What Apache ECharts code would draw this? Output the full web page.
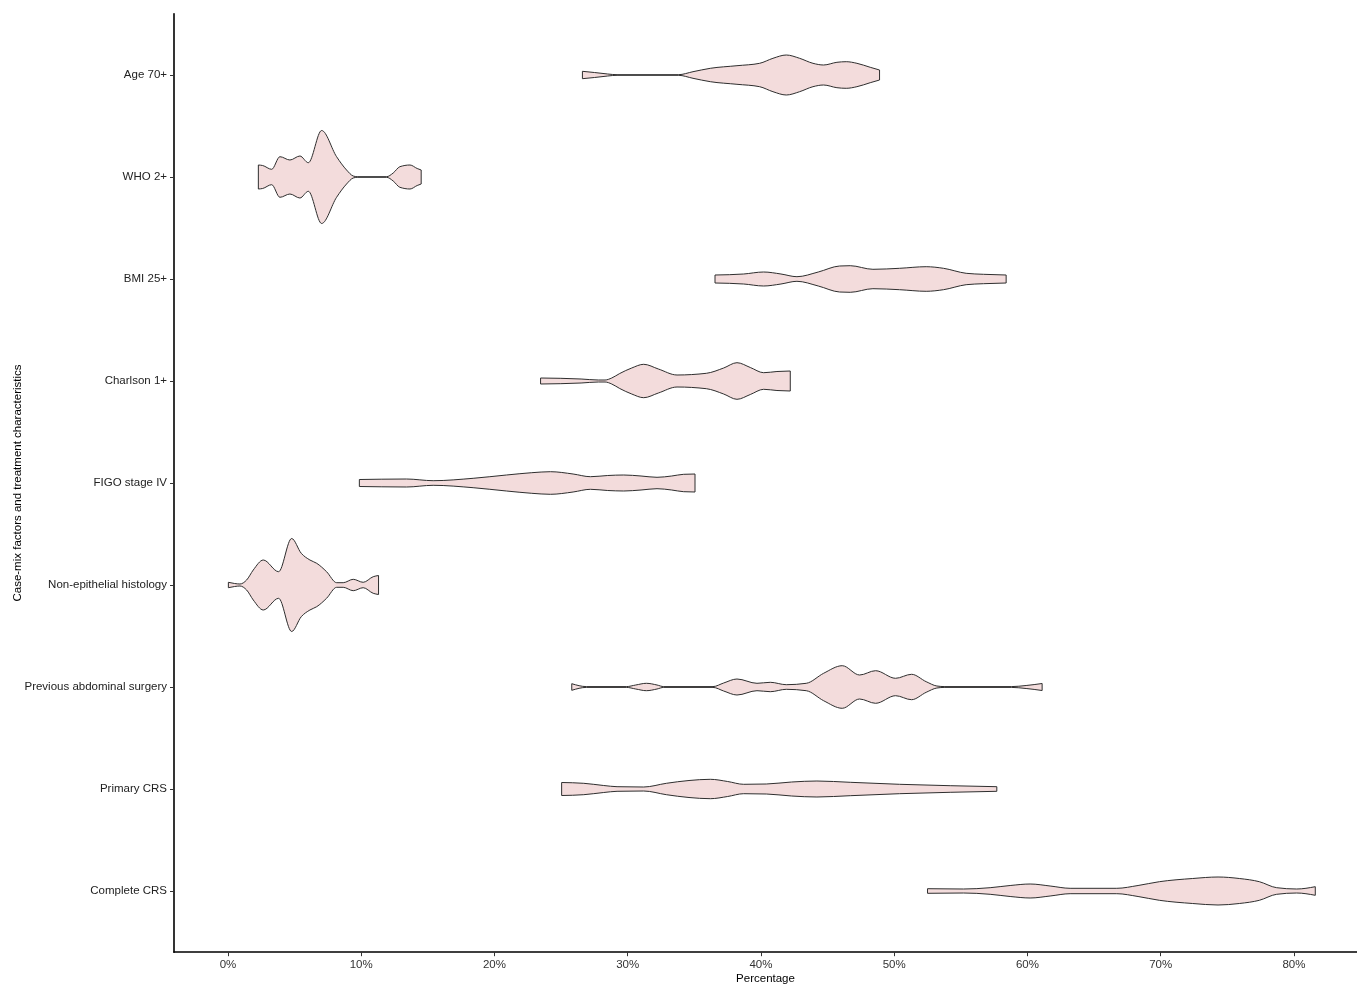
<!DOCTYPE html>
<html><head><meta charset="utf-8">
<script src="https://cdn.jsdelivr.net/npm/echarts@6/dist/echarts.min.js"></script>
<style>html,body{margin:0;padding:0;background:#fff}#chart{width:1357px;height:985px}</style>
</head><body><div id="chart"></div>
<script>
// Categories (top to bottom)
const categories = ['Age 70+','WHO 2+','BMI 25+','Charlson 1+','FIGO stage IV','Non-epithelial histology','Previous abdominal surgery','Primary CRS','Complete CRS'];
const xTicks = [0,10,20,30,40,50,60,70,80];

// Violin outlines: [percentage, relative density (half-width)]
const age70 = [[26.6,3.7],[27.5,2.5],[28.5,1],[29.2,0.3],[33.8,0.3],[34.9,3.3],[36.2,6.7],[38.2,9.3],[39.9,11.7],[40.9,16.7],[41.9,20],[42.9,16.7],[43.9,11.7],[44.7,10],[45.7,12.7],[46.4,13.3],[47.2,11.7],[48.2,7.7],[48.9,5]];
const who2 = [[2.28,12],[2.6,11.5],[3.28,7.7],[3.9,20.3],[4.65,17],[5.4,21],[6.03,14.3],[7.03,46.5],[8.15,20.3],[8.9,7],[9.4,1],[9.7,0.3],[11.9,0.3],[12.4,4],[12.9,10.3],[13.66,12],[14.2,8.5],[14.5,7]];
const bmi25 = [[36.55,4],[38.7,5],[40.2,7],[41.5,5],[42.7,2.3],[44.3,7],[45.9,13],[46.7,13.3],[48.4,9.7],[50.4,10.7],[52.4,12.3],[53.7,10.7],[55.4,5.7],[56.7,4.7],[58.4,4]];
const charlson = [[23.46,3],[26.5,2],[27.8,1],[28.3,1],[28.8,3],[29.4,7.5],[30.3,13],[31.2,16.7],[32.3,12],[33.7,6],[35.9,7.7],[37.2,13],[38.2,18.3],[39.2,13.5],[40.2,8.3],[41.2,9.5],[42.2,10]];
const figo = [[9.86,3.5],[11.5,3.8],[13.4,4],[15.4,2.3],[18.4,4.7],[20.9,8],[22.8,10.3],[24.2,11.3],[25.9,9],[27.2,6.3],[28.5,7.5],[29.7,8],[31,7],[32.2,5.7],[33.3,7],[34.2,8.7],[35.05,9]];
const nonEpi = [[0.03,2.7],[0.5,1.5],[0.9,1],[1.4,5],[1.9,15],[2.65,25],[3.8,13.3],[4.78,46.5],[5.5,31.7],[6.15,25],[6.66,21.7],[7.4,13.3],[8.16,2.3],[8.65,2.3],[9.4,5.7],[10.15,2.7],[10.9,8.3],[11.3,9.5]];
const prevSurgery = [[25.8,3.3],[26.9,0.4],[29.9,0.4],[30.6,2],[31.4,3.7],[32.2,2],[32.7,0.4],[36.4,0.4],[37.2,4],[38.2,8],[39.7,3.7],[40.7,4.7],[41.9,2.3],[43.4,3.7],[44.7,13.7],[46.1,21.3],[47.4,12],[48.6,16.3],[50.1,8.7],[51.3,12.7],[52.4,5.3],[53.2,1],[53.8,0.4],[58.8,0.4],[59.9,1.5],[61.1,3.5]];
const primaryCRS = [[25.04,6.5],[26.7,5.7],[28.2,3.5],[29.2,2.3],[31.2,2],[32.9,5.7],[34.6,8.5],[36.2,9.7],[37.5,7.5],[38.7,4.7],[40.4,5],[42.3,7],[44.2,8],[46.7,6.7],[50.4,4.7],[54.2,3.3],[57.7,2.3]];
const completeCRS = [[52.5,2.3],[55.2,2],[57.2,3.3],[58.7,5.5],[60.2,7],[61.7,5],[63.2,2.7],[66.7,2.7],[68.3,5.5],[69.9,9.3],[72.4,12.5],[74.3,14],[75.9,12.5],[77.4,9.3],[78.7,3.3],[80.2,2],[81.6,4.3]];

const profiles = [age70, who2, bmi25, charlson, figo, nonEpi, prevSurgery, primaryCRS, completeCRS];
const DENSITY_REF = 102; // density units per category band

function slopes(X, Y) {
  const n = X.length, m = new Array(n).fill(0);
  if (n < 2) return m;
  if (n === 2) { const s = (Y[1]-Y[0])/(X[1]-X[0]); return [s, s]; }
  for (let i = 1; i < n-1; i++) {
    const h0 = X[i]-X[i-1], h1 = X[i+1]-X[i];
    const s0 = (Y[i]-Y[i-1])/h0, s1 = (Y[i+1]-Y[i])/h1;
    const p = (s0*h1 + s1*h0)/(h0+h1);
    m[i] = ((Math.sign(s0)+Math.sign(s1)) * Math.min(Math.abs(s0), Math.abs(s1), 0.5*Math.abs(p))) || 0;
  }
  const ha = X[1]-X[0]; m[0] = (3*(Y[1]-Y[0])/ha - m[1])/2;
  const hb = X[n-1]-X[n-2]; m[n-1] = (3*(Y[n-1]-Y[n-2])/hb - m[n-2])/2;
  return m;
}

function renderItem(params, api) {
  const idx = params.dataIndex;
  const prof = profiles[idx];
  const band = api.size([0, 1])[1];
  const c = api.coord([0, idx])[1];
  const X = prof.map(p => api.coord([p[0], idx])[0]);
  const H = prof.map(p => p[1] * band / DENSITY_REF);
  const m = slopes(X, H);
  const n = X.length;
  const f = v => v.toFixed(2);
  const cl = v => Math.max(0.05, v);
  let d = 'M' + f(X[0]) + ' ' + f(c - H[0]);
  for (let i = 0; i < n-1; i++) {
    const dx = X[i+1]-X[i];
    d += ' C' + f(X[i]+dx/3) + ' ' + f(c - cl(H[i]+m[i]*dx/3)) + ' ' +
         f(X[i+1]-dx/3) + ' ' + f(c - cl(H[i+1]-m[i+1]*dx/3)) + ' ' +
         f(X[i+1]) + ' ' + f(c - H[i+1]);
  }
  d += ' L' + f(X[n-1]) + ' ' + f(c + H[n-1]);
  for (let i = n-2; i >= 0; i--) {
    const dx = X[i+1]-X[i];
    d += ' C' + f(X[i+1]-dx/3) + ' ' + f(c + cl(H[i+1]-m[i+1]*dx/3)) + ' ' +
         f(X[i]+dx/3) + ' ' + f(c + cl(H[i]+m[i]*dx/3)) + ' ' +
         f(X[i]) + ' ' + f(c + H[i]);
  }
  d += ' Z';
  return {
    type: 'path',
    shape: { pathData: d },
    style: { fill: '#f3dcdc', stroke: '#2e2e2e', lineWidth: 1 }
  };
}

const FONT = 'Liberation Sans, Arial, sans-serif';
const chart = echarts.init(document.getElementById('chart'), null, { renderer: 'canvas' });
chart.setOption({
  animation: false,
  backgroundColor: '#ffffff',
  grid: { left: 174, right: 0, top: 13.8, bottom: 32.8, containLabel: false, outerBoundsMode: 'none' },
  xAxis: {
    type: 'value', min: -4.05, max: 84.73,
    axisLine: { show: true, onZero: false, lineStyle: { color: '#000', width: 1.6 } },
    axisTick: { show: true, length: 4, customValues: xTicks, lineStyle: { color: '#333', width: 1 } },
    axisLabel: { customValues: xTicks, formatter: v => v + '%', color: '#333', fontSize: 11.5, margin: 7, fontFamily: FONT },
    splitLine: { show: false },
    name: 'Percentage', nameLocation: 'middle', nameGap: 21, nameMoveOverlap: false,
    nameTextStyle: { color: '#000', fontSize: 11.5, fontFamily: FONT }
  },
  yAxis: {
    type: 'value', inverse: true, min: -0.6, max: 8.6,
    axisLine: { show: true, onZero: false, lineStyle: { color: '#000', width: 1.6 } },
    axisTick: { show: true, length: 4, customValues: categories.map((c, i) => i), lineStyle: { color: '#333', width: 1 } },
    axisLabel: { customValues: categories.map((c, i) => i), formatter: v => categories[Math.round(v)], color: '#222', fontSize: 11.5, margin: 7, fontFamily: FONT },
    splitLine: { show: false },
    name: 'Case-mix factors and treatment characteristics', nameLocation: 'middle', nameGap: 150, nameRotate: 90, nameMoveOverlap: false,
    nameTextStyle: { color: '#000', fontSize: 11.5, fontFamily: FONT }
  },
  series: [{
    type: 'custom',
    renderItem: renderItem,
    clip: false,
    data: profiles.map((p, i) => [p[0][0], i])
  }]
});
</script></body></html>
